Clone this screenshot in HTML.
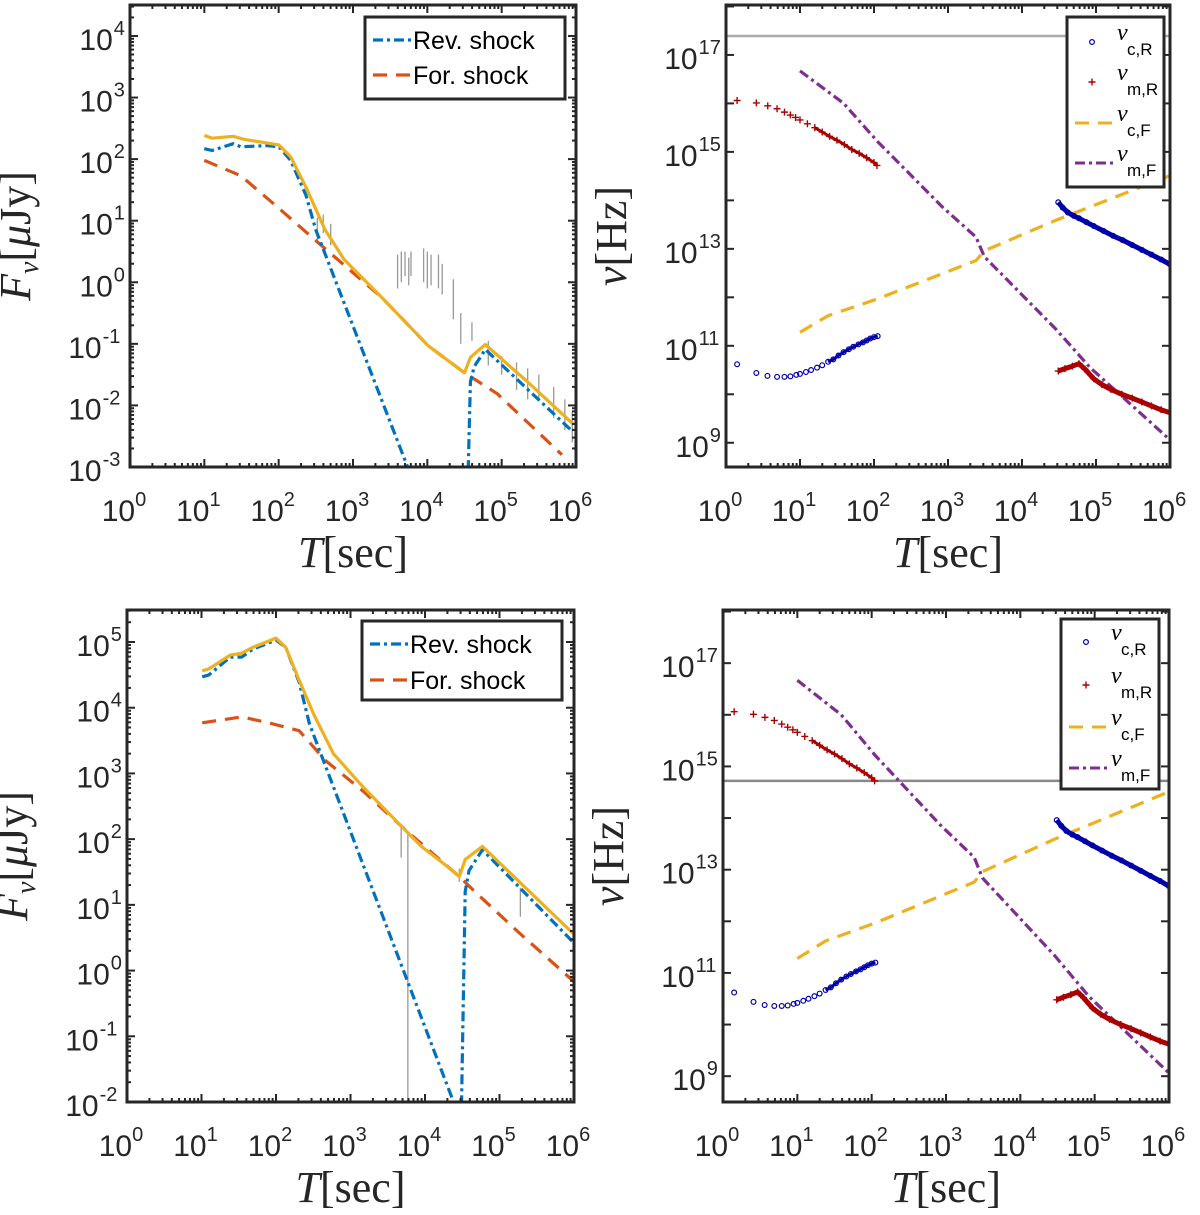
<!DOCTYPE html>
<html><head><meta charset="utf-8">
<style>
html,body{margin:0;padding:0;background:#fff;}
svg{display:block;}
.tk{font-family:"Liberation Sans",sans-serif;font-size:30px;fill:#262626;}
.sup{font-size:20px;}
.lab{font-family:"Liberation Serif",serif;font-size:44px;fill:#262626;}
.leg{font-family:"Liberation Sans",sans-serif;font-size:25px;fill:#000;}
.lnu{font-family:"Liberation Serif",serif;font-style:italic;font-size:24px;fill:#000;}
.lsub{font-family:"Liberation Sans",sans-serif;font-size:17px;fill:#000;}
</style></head>
<body>
<svg id="fig" width="1200" height="1215" viewBox="0 0 1200 1215" xmlns="http://www.w3.org/2000/svg"></svg>
<script>
// ---------- data (log10 values) ----------
const tlTotalT = [1.0,1.105,1.39,1.54,1.85,2.005,2.16,2.365,2.62,2.88,3.39,4.01,4.5,4.58,4.78,5.35,5.96];
const tlTotalF = [2.385,2.34,2.37,2.32,2.26,2.23,2.04,1.55,0.86,0.37,-0.25,-1.03,-1.47,-1.22,-1.01,-1.62,-2.30];
const tlRevT1 = [1.0,1.105,1.39,1.49,1.85,2.005,2.16,2.365,2.5,3.75];
const tlRevF1 = [2.17,2.14,2.25,2.20,2.22,2.20,1.98,1.42,0.85,-3.05];
const tlRevT2 = [4.55,4.58,4.63,4.78,5.35,5.96];
const tlRevF2 = [-3.05,-1.62,-1.37,-1.09,-1.74,-2.43];
const tlForT = [1.0,1.49,2.005,2.62,3.39,4.01,4.5,4.94,5.81];
const tlForF = [1.98,1.73,1.20,0.55,-0.25,-1.03,-1.47,-1.81,-2.80];
const tlObsT = [2.52,2.6,2.7,3.6,3.65,3.7,3.75,3.78,3.95,4.0,4.05,4.15,4.2,4.35,4.45,4.6,4.82,5.0,5.2,5.35,5.5,5.7,5.85,5.95];
const tlObsLo = [0.65,0.8,0.6,-0.1,0.0,0.1,-0.05,0.1,0.0,-0.1,-0.05,-0.1,-0.2,-0.6,-1.0,-0.95,-1.35,-1.5,-1.75,-1.9,-1.9,-2.2,-2.4,-2.6];
const tlObsHi = [1.05,1.1,0.95,0.45,0.5,0.5,0.4,0.5,0.55,0.5,0.45,0.45,0.3,0.05,-0.5,-0.65,-0.95,-1.2,-1.3,-1.4,-1.5,-1.7,-1.9,-2.1];
const blTotalT = [1.01,1.10,1.385,1.54,1.69,2.0,2.13,2.31,2.51,2.77,3.18,3.69,3.95,4.28,4.46,4.54,4.77,6.0];
const blTotalF = [4.56,4.59,4.80,4.83,4.92,5.06,4.92,4.42,3.89,3.30,2.78,2.19,1.89,1.60,1.43,1.69,1.89,0.55];
const blRevT1 = [1.01,1.10,1.385,1.54,1.69,2.0,2.13,2.31,2.45,4.40];
const blRevF1 = [4.47,4.50,4.77,4.77,4.89,5.03,4.92,4.39,3.75,-2.05];
const blRevT2 = [4.49,4.54,4.59,4.77,6.0];
const blRevF2 = [-2.05,1.20,1.52,1.84,0.42];
const blForT = [1.01,1.54,1.9,2.31,2.67,3.18,3.69,4.46,4.67,5.23,6.0];
const blForF = [3.77,3.86,3.77,3.65,3.19,2.72,2.19,1.43,1.20,0.61,-0.17];
const blObsT = [3.68,3.77,4.46,5.28];
const blObsLo = [1.72,-2.0,1.35,0.82];
const blObsHi = [2.19,2.13,1.55,1.26];
const ncRT1 = [0.15,0.41,0.56,0.69,0.79,0.87,0.95,1.0,1.08,1.15,1.23,1.3,1.38,1.45,1.52,1.59,1.66,1.72,1.79,1.85,1.9,1.95,2.0,2.05];
const ncRV1 = [10.62,10.44,10.38,10.36,10.36,10.37,10.4,10.42,10.46,10.5,10.55,10.6,10.67,10.72,10.8,10.87,10.93,10.98,11.03,11.07,11.11,11.15,11.18,11.2];
const ncRT2 = [4.49,4.55,4.62,4.7,4.77,4.87,4.97,5.1,5.23,5.36,5.49,5.62,5.75,5.88,6.0];
const ncRV2 = [13.96,13.85,13.75,13.68,13.63,13.55,13.47,13.37,13.27,13.18,13.08,12.98,12.88,12.78,12.68];
const nmRT1 = [0.15,0.41,0.564,0.69,0.79,0.87,0.94,1.0,1.1,1.2,1.3,1.4,1.5,1.6,1.7,1.8,1.9,2.0,2.04];
const nmRV1 = [16.06,16.01,15.95,15.89,15.82,15.76,15.71,15.66,15.58,15.5,15.41,15.32,15.24,15.15,15.05,14.97,14.88,14.78,14.72];
const nmRT2 = [4.49,4.58,4.68,4.77,4.85,4.97,5.08,5.2,5.35,5.49,5.62,5.75,5.88,6.0];
const nmRV2 = [10.48,10.53,10.58,10.63,10.52,10.32,10.2,10.1,10.0,9.92,9.84,9.76,9.68,9.62];
const ncFT = [1.0,1.38,2.05,3.38,3.49,4.46,6.0];
const ncFV = [11.28,11.62,11.97,12.76,12.96,13.59,14.51];
const nmFT = [1.0,1.59,2.05,2.92,3.38,3.49,4.46,4.92,6.0];
const nmFV = [16.67,16.0,15.21,13.87,13.24,12.84,11.34,10.55,9.06];
const hLineTop = [17.39];
const hLineBot = [14.72];

const NS = "http://www.w3.org/2000/svg";
const fig = document.getElementById('fig');
function mk(tag, attrs, parent){ const e=document.createElementNS(NS,tag); for(const k in attrs) e.setAttribute(k,attrs[k]); (parent||fig).appendChild(e); return e; }

function makePanel(p){
  const sx = v => p.x0 + v/6*(p.x1-p.x0);
  const sy = v => p.y1 - (v-p.ymin)/(p.ymax-p.ymin)*(p.y1-p.y0);
  const g = mk('g',{});
  
  
  const cid = 'clip-'+p.name;
  const cp = mk('clipPath',{id:cid},g);
  mk('rect',{x:p.x0,y:p.y0,width:p.x1-p.x0,height:p.y1-p.y0},cp);
  const plot = mk('g',{'clip-path':'url(#'+cid+')'},g);
  return {sx,sy,g,plot,p};
}

function axes(P){
  const {sx,sy,g,p}=P;
  const ax = mk('g',{},g);
  
  
  for(let d=0; d<=6; d++){
    const x=sx(d);
    mk('line',{x1:x,y1:p.y1,x2:x,y2:p.y1-8,stroke:'#262626','stroke-width':2},ax);
    mk('line',{x1:x,y1:p.y0,x2:x,y2:p.y0+8,stroke:'#262626','stroke-width':2},ax);
    if(d<6) for(let m=2;m<=9;m++){ const xm=sx(d+Math.log10(m));
      mk('line',{x1:xm,y1:p.y1,x2:xm,y2:p.y1-4,stroke:'#262626','stroke-width':2},ax);
      mk('line',{x1:xm,y1:p.y0,x2:xm,y2:p.y0+4,stroke:'#262626','stroke-width':2},ax);}
    const t = mk('text',{x:x-6,y:p.y1+54,'text-anchor':'middle',class:'tk'},ax);
    t.textContent='10';
    const s = mk('tspan',{class:'sup',dy:-15},t); s.textContent=String(d);
  }
  const lo=Math.ceil(p.ymin), hi=Math.floor(p.ymax);
  for(let d=lo; d<=hi; d++){
    const y=sy(d);
    mk('line',{x1:p.x0,y1:y,x2:p.x0+8,y2:y,stroke:'#262626','stroke-width':2},ax);
    mk('line',{x1:p.x1,y1:y,x2:p.x1-8,y2:y,stroke:'#262626','stroke-width':2},ax);
    if(p.minorY) for(let m=2;m<=9;m++){ const ym=sy(d+Math.log10(m)); if(ym<p.y0) continue;
      mk('line',{x1:p.x0,y1:ym,x2:p.x0+4,y2:ym,stroke:'#262626','stroke-width':2},ax);
      mk('line',{x1:p.x1,y1:ym,x2:p.x1-4,y2:ym,stroke:'#262626','stroke-width':2},ax);}
    if((d - p.labStart) % p.labStep === 0){
      const exp=String(d); const w = exp.length*11.2;
      const t = mk('text',{x:p.x0-6-w,y:y+14,'text-anchor':'end',class:'tk'},ax);
      t.textContent='10';
      const s = mk('tspan',{class:'sup',x:p.x0-5-w,dy:-15,'text-anchor':'start'},t); s.textContent=exp;
    }
  }
  mk('rect',{x:p.x0,y:p.y0,width:p.x1-p.x0,height:p.y1-p.y0,fill:'none',stroke:'#262626','stroke-width':3},ax);
}

function line(P, xs, ys, style, name){
  const pts = xs.map((x,i)=>P.sx(x).toFixed(1)+','+P.sy(ys[i]).toFixed(1)).join(' ');
  const e = mk('polyline',Object.assign({points:pts,fill:'none','stroke-linejoin':'round'},style),P.plot);
  
  
  return e;
}
function obs(P, xs, lo, hi, color, name){
  const g=mk('g',{},P.plot);
  
  
  xs.forEach((x,i)=>{ mk('line',{x1:P.sx(x),x2:P.sx(x),y1:P.sy(lo[i]),y2:P.sy(hi[i]),stroke:color,'stroke-width':1.3},g); });
}
function circles(P, xs, ys, name){
  const g=mk('g',{},P.plot);
  
  
  xs.forEach((x,i)=>{ mk('circle',{cx:P.sx(x),cy:P.sy(ys[i]),r:2.4,fill:'none',stroke:'#0000aa','stroke-width':1.2},g); });
}
function pluses(P, xs, ys, name){
  const g=mk('g',{},P.plot);
  
  
  xs.forEach((x,i)=>{ const cx=P.sx(x), cy=P.sy(ys[i]);
    mk('path',{d:`M${cx-3.5},${cy}h7M${cx},${cy-3.5}v7`,stroke:'#aa0000','stroke-width':1.4},g); });
}

const BLUE={stroke:'#0072BD','stroke-width':3.2,'stroke-dasharray':'10 4 3 4'};
const ORANGE={stroke:'#D95319','stroke-width':3.2,'stroke-dasharray':'14 9'};
const GOLD={stroke:'#EDB120','stroke-width':3.2};

function lightPanel(p, d){
  const P = makePanel(p); axes(P);
  obs(P, d.oT, d.oL, d.oH, '#999', p.name+'-observations');
  line(P, d.fT, d.fF, ORANGE, p.name+'-forward-shock');
  line(P, d.r1T, d.r1F, BLUE, p.name+'-reverse-shock-early');
  line(P, d.r2T, d.r2F, BLUE, p.name+'-reverse-shock-late');
  line(P, d.tT, d.tF, GOLD, p.name+'-total-flux');
  const cx=p.x0-100, cy=(p.y0+p.y1)/2;
  const t=mk('text',{x:cx,y:cy,transform:`rotate(-90 ${cx} ${cy})`,'text-anchor':'middle',class:'lab'},P.g);
  
  
  t.innerHTML='<tspan font-style="italic">F</tspan><tspan font-style="italic" font-size="28" dy="8">ν</tspan><tspan dy="-8">[</tspan><tspan font-style="italic">μ</tspan><tspan>Jy]</tspan>';
  xLabel(P);
  const L=p.leg;
  const lg=mk('g',{},P.g);
  
  
  mk('rect',{x:L.x,y:L.y,width:L.w,height:L.h,fill:'#fff',stroke:'#262626','stroke-width':3},lg);
  [['Rev. shock',BLUE,L.r1],['For. shock',ORANGE,L.r2]].forEach(([txt,st,ry])=>{
    mk('line',Object.assign({x1:L.x+8,x2:L.x+46,y1:ry,y2:ry},st),lg);
    const t=mk('text',{x:L.x+48,y:ry+9,class:'leg'},lg); t.textContent=txt;
  });
}
function xLabel(P){
  const p=P.p;
  const t=mk('text',{x:(p.x0+p.x1)/2,y:p.y1+100,'text-anchor':'middle',class:'lab'},P.g);
  
  
  t.innerHTML='<tspan font-style="italic">T</tspan><tspan>[sec]</tspan>';
}
function freqPanel(p, hval){
  const P = makePanel(p); axes(P);
  const hl=mk('line',{x1:p.x0,x2:p.x1,y1:P.sy(hval[0]),y2:P.sy(hval[0]),stroke:p.hcol,'stroke-width':2.5},P.plot);
  
  
  line(P, ncFT, ncFV, {stroke:'#EDB120','stroke-width':3.2,'stroke-dasharray':'14 9'}, p.name+'-nu-c-forward');
  line(P, nmFT, nmFV, {stroke:'#7E2F8E','stroke-width':3.2,'stroke-dasharray':'10 4 3 4'}, p.name+'-nu-m-forward');
  line(P, ncRT2, ncRV2, {stroke:'#0000aa','stroke-width':5}, p.name+'-nu-c-reverse-late-band');
  line(P, nmRT2, nmRV2, {stroke:'#aa0000','stroke-width':5}, p.name+'-nu-m-reverse-late-band');
  line(P, nmRT1.slice(9), nmRV1.slice(9), {stroke:'#aa0000','stroke-width':3}, p.name+'-nu-m-reverse-early-band');
  line(P, ncRT1.slice(12), ncRV1.slice(12), {stroke:'#0000aa','stroke-width':3}, p.name+'-nu-c-reverse-early-band');
  circles(P, ncRT1, ncRV1, p.name+'-nu-c-reverse-early');
  circles(P, ncRT2, ncRV2, p.name+'-nu-c-reverse-late');
  pluses(P, nmRT1, nmRV1, p.name+'-nu-m-reverse-early');
  pluses(P, nmRT2, nmRV2, p.name+'-nu-m-reverse-late');
  const cx=p.x0-100, cy=(p.y0+p.y1)/2;
  const t=mk('text',{x:cx,y:cy,transform:`rotate(-90 ${cx} ${cy})`,'text-anchor':'middle',class:'lab'},P.g);
  
  
  t.innerHTML='<tspan font-style="italic">ν</tspan><tspan>[Hz]</tspan>';
  xLabel(P);
  const L=p.leg;
  const lg=mk('g',{},P.g);
  
  
  mk('rect',{x:L.x,y:L.y,width:L.w,height:L.h,fill:'#fff',stroke:'#262626','stroke-width':3},lg);
  const subs=['c,R','m,R','c,F','m,F'];
  subs.forEach((s,i)=>{
    const ry=L.rows[i], mx=L.x+25;
    if(i===0) mk('circle',{cx:mx,cy:ry,r:2.4,fill:'none',stroke:'#0000aa','stroke-width':1.2},lg);
    if(i===1) mk('path',{d:`M${mx-3.5},${ry}h7M${mx},${ry-3.5}v7`,stroke:'#aa0000','stroke-width':1.4},lg);
    if(i===2) mk('line',{x1:L.x+8,x2:L.x+48,y1:ry,y2:ry,stroke:'#EDB120','stroke-width':3,'stroke-dasharray':'14 9'},lg);
    if(i===3) mk('line',{x1:L.x+8,x2:L.x+48,y1:ry,y2:ry,stroke:'#7E2F8E','stroke-width':3,'stroke-dasharray':'10 4 3 4'},lg);
    const t=mk('text',{x:L.x+50,y:ry-2,class:'lnu'},lg); t.textContent='ν';
    const u=mk('text',{x:L.x+60,y:ry+13,class:'lsub'},lg); u.textContent=s;
  });
}

lightPanel({name:'top-left-panel',x0:130,x1:576,y0:5,y1:467,ymin:-3,ymax:4.503,labStep:1,labStart:0,minorY:true,
  leg:{x:365,y:17,w:200,h:82,r1:40,r2:75}},
  {tT:tlTotalT,tF:tlTotalF,r1T:tlRevT1,r1F:tlRevF1,r2T:tlRevT2,r2F:tlRevF2,fT:tlForT,fF:tlForF,oT:tlObsT,oL:tlObsLo,oH:tlObsHi});
lightPanel({name:'bottom-left-panel',x0:127,x1:574,y0:610,y1:1102,ymin:-2,ymax:5.487,labStep:1,labStart:0,minorY:true,
  leg:{x:362,y:621,w:200,h:79,r1:644,r2:680}},
  {tT:blTotalT,tF:blTotalF,r1T:blRevT1,r1F:blRevF1,r2T:blRevT2,r2F:blRevF2,fT:blForT,fF:blForF,oT:blObsT,oL:blObsLo,oH:blObsHi});
freqPanel({name:'top-right-panel',x0:726,x1:1170,y0:5,y1:467,ymin:8.5,ymax:18.03,labStep:2,labStart:9,minorY:false,hcol:'#aaa',
  leg:{x:1067,y:17,w:97,h:170,rows:[42,82,123,163]}}, hLineTop);
freqPanel({name:'bottom-right-panel',x0:723,x1:1169,y0:610,y1:1102,ymin:8.5,ymax:18.03,labStep:2,labStart:9,minorY:false,hcol:'#888',
  leg:{x:1061,y:619,w:98,h:170,rows:[642,685,727,768]}}, hLineBot);
</script>
</body></html>
